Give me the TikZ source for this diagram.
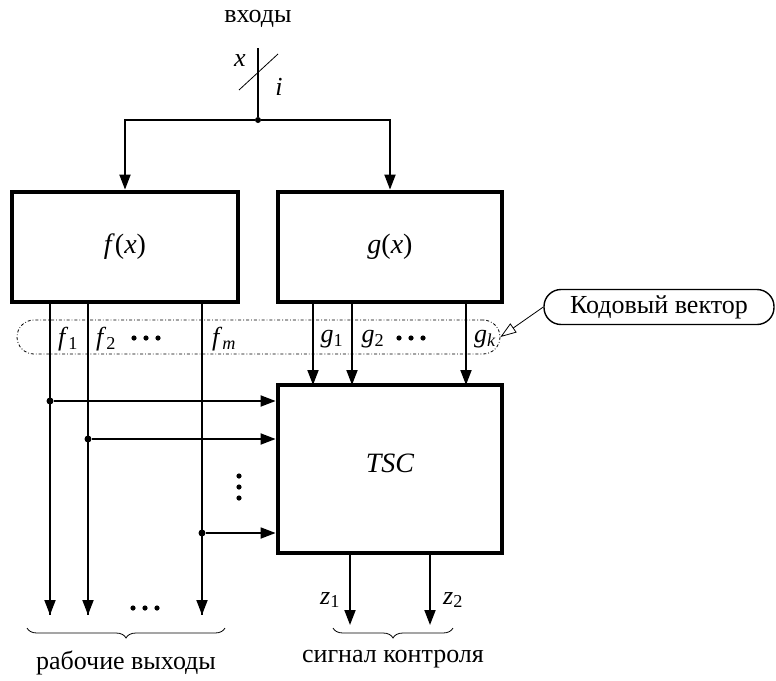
\documentclass[tikz,border=0pt]{standalone}
\usepackage{fontspec}
\setmainfont{Liberation Serif}
\usetikzlibrary{arrows.meta,decorations.pathreplacing}

\tikzset{
  blk/.style={draw, line width=4.8pt, inner sep=0pt},
  arr/.style={line width=1.8pt, -{Triangle[length=15pt,width=11pt]}},
  wire/.style={line width=1.3pt},
  grp/.style={draw, line width=0.8pt, dash dot, rounded corners=17pt, inner sep=0pt},
  tag/.style={draw, line width=1.4pt, rounded corners=17pt, inner sep=0pt},
  lbl/.style={font=\fontsize{26}{30}\selectfont},
  big/.style={font=\fontsize{28}{32}\selectfont},
  jdot/.style={circle, fill, inner sep=0pt, minimum size=7pt},
  brc/.style={decorate, decoration={brace, mirror, amplitude=10pt}, line width=0.8pt}
}

\begin{document}
\begin{tikzpicture}[x=1pt,y=-1pt]
    \useasboundingbox (0,0) rectangle (776,680);

    % inputs
    \node[lbl] (inlbl) at (258,19) {входы};
    \coordinate (in) at (258,48);
    \node[jdot, minimum size=6pt] (j) at (258,120) {};
    \draw[line width=1.8pt] (in) -- (j);
    \draw[line width=0.8pt] (239,90) -- (278,54);
    \node[lbl] (xlbl) at (240,61) {\textit{x}};
    \node[lbl] (ilbl) at (279,87) {\textit{i}};

    % blocks
    \node[blk, minimum width=226pt, minimum height=110pt] (fbox) at (125,247) {};
    \node[big] (flbl) at (125,247) {\textit{f}(\textit{x})};
    \node[blk, minimum width=224pt, minimum height=110pt] (gbox) at (390,247) {};
    \node[big] (glbl) at (390,247) {\textit{g}(\textit{x})};
    \node[blk, minimum width=224pt, minimum height=168pt] (tsc) at (390,469) {};
    \node[big] (tsclbl) at (390,463) {\textit{TSC}};

    \draw[arr] (j) -| (fbox.north);
    \draw[arr] (j) -| (gbox.north);

    % code vector
    \node[grp, minimum width=483pt, minimum height=34pt] (code) at (258.5,337) {};
    \node[tag, minimum width=230pt, minimum height=35pt, lbl] (cv) at (659,307) {Кодовый вектор};
    \draw[line width=0.8pt, -{Triangle[open,length=16pt,width=11pt]}] (cv.west) -- (code.east);

    % f outputs
    \foreach \n/\x in {1/50, 2/88, m/202} {
        \coordinate (fs\n) at (\x,302);
        \coordinate (fo\n) at (\x,615);
        \draw[wire] (fs\n) -- (fo\n);
        \draw[arr] (\x,590) -- (fo\n);
    }
    \node[lbl] (f1) at (68,339) {\textit{f}\textsubscript{1}};
    \node[lbl] (f2) at (106,339) {\textit{f}\textsubscript{2}};
    \node[lbl] (fm) at (224,339) {\textit{f}\textsubscript{\textit{m}}};
    \foreach \x in {134,146,158} \fill (\x,338) circle (2.6pt);

    % g outputs
    \foreach \n/\x in {1/313, 2/352, k/466} {
        \coordinate (gs\n) at (\x,302);
        \coordinate (gi\n) at (\x,385);
        \draw[arr] (gs\n) -- (gi\n);
    }
    \node[lbl] (g1) at (332,339) {\textit{g}\textsubscript{1}};
    \node[lbl] (g2) at (373,339) {\textit{g}\textsubscript{2}};
    \node[lbl] (gk) at (485,339) {\textit{g}\textsubscript{\textit{k}}};
    \foreach \x in {399,411,423} \fill (\x,338) circle (2.6pt);

    % taps into TSC
    \foreach \n/\x/\y in {1/50/401, 2/88/439, m/202/533} {
        \node[jdot] (t\n) at (\x,\y) {};
        \draw[arr] (t\n) -- (t\n -| tsc.west);
    }
    \foreach \y in {476,487,498} \fill (239,\y) circle (2.6pt);
    \foreach \x in {133,145,157} \fill (\x,608) circle (2.6pt);

    % TSC outputs
    \foreach \n/\x in {1/350, 2/430} {
        \coordinate (zs\n) at (\x,553);
        \coordinate (zo\n) at (\x,625);
        \draw[arr] (zs\n) -- (zo\n);
    }
    \node[lbl] (z1) at (330,600) {\textit{z}\textsubscript{1}};
    \node[lbl] (z2) at (453,600) {\textit{z}\textsubscript{2}};

    % braces
    \draw[brc] (27,628) -- (225,628) node[midway, below=19pt, lbl] (wout) {рабочие выходы};
    \draw[brc] (333,628) -- (453,628) node[midway, below=19pt, lbl] (sout) {сигнал контроля};
\end{tikzpicture}
\end{document}
